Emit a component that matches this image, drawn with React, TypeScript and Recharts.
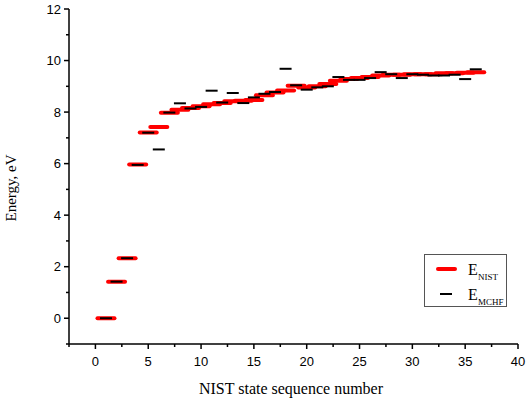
import React from 'react';
import { ScatterChart, Scatter, XAxis, YAxis, Legend } from 'recharts';

// NIST state sequence numbers
const stateNumbers = [
  1, 2, 3, 4, 5, 6, 7, 8, 9, 10, 11, 12, 13, 14, 15, 16, 17, 18,
  19, 20, 21, 22, 23, 24, 25, 26, 27, 28, 29, 30, 31, 32, 33, 34, 35, 36,
];

// energies, eV
const eNist = [
  0, 1.42, 2.33, 5.97, 7.21, 7.42, 7.97, 8.09, 8.16, 8.23, 8.3, 8.35,
  8.42, 8.44, 8.47, 8.65, 8.76, 8.84, 9.02, 8.95, 9.0, 9.09, 9.22, 9.28,
  9.32, 9.36, 9.42, 9.45, 9.45, 9.47, 9.47, 9.47, 9.51, 9.51, 9.53, 9.55,
];

const eMchf = [
  0, 1.42, 2.33, 5.95, 7.2, 6.55, 7.98, 8.34, 8.14, 8.2, 8.83, 8.37,
  8.74, 8.35, 8.57, 8.71, 8.78, 9.68, 9.04, 8.87, 8.96, 9.0, 9.36, 9.25,
  9.25, 9.32, 9.55, 9.47, 9.32, 9.47, 9.45, 9.42, 9.42, 9.45, 9.28, 9.66,
];

const xTicks = [-2.5, 0, 2.5, 5, 7.5, 10, 12.5, 15, 17.5, 20, 22.5, 25, 27.5, 30, 32.5, 35, 37.5, 40];
const yTicks = [-1, 0, 1, 2, 3, 4, 5, 6, 7, 8, 9, 10, 11, 12];

const nistData = stateNumbers.map((n, i) => ({ x: n, y: eNist[i] }));
const mchfData = stateNumbers.map((n, i) => ({ x: n, y: eMchf[i] }));

const sans = '"Liberation Sans", Arial, sans-serif';
const serif = '"Liberation Serif", "Times New Roman", serif';

const XTick = (props: any) => {
  const { x, y, payload } = props;
  const major = payload.value % 5 === 0;
  return (
    <g>
      <line x1={x} x2={x} y1={y} y2={y + (major ? 5 : 3)} stroke="#000" strokeWidth={1.5} />
      {major && (
        <text x={x} y={y + 22} textAnchor="middle" fontSize={13} fontFamily={sans} fill="#000">
          {payload.value}
        </text>
      )}
    </g>
  );
};

const YTick = (props: any) => {
  const { x, y, payload } = props;
  const major = payload.value % 2 === 0 && payload.value >= 0;
  return (
    <g>
      <line x1={x} x2={x - (major ? 5 : 3)} y1={y} y2={y} stroke="#000" strokeWidth={1.5} />
      {major && (
        <text x={x - 8} y={y} dy="0.35em" textAnchor="end" fontSize={13} fontFamily={sans} fill="#000">
          {payload.value}
        </text>
      )}
    </g>
  );
};

const NistDash = (props: any) => (
  <line x1={props.cx - 8.5} x2={props.cx + 8.5} y1={props.cy} y2={props.cy}
    stroke="#ff0000" strokeWidth={4} strokeLinecap="round" />
);

const MchfDash = (props: any) => (
  <line x1={props.cx - 6} x2={props.cx + 6} y1={props.cy} y2={props.cy}
    stroke="#000" strokeWidth={2} />
);

const LegendBox = () => (
  <div style={{ width: 83, height: 53, border: '1px solid #555', background: '#fff', boxSizing: 'border-box' }}>
    <svg width={83} height={53} style={{ display: 'block' }}>
      <line x1={13} x2={30} y1={14} y2={14} stroke="#ff0000" strokeWidth={4} strokeLinecap="round" />
      <text x={43} y={20} fontSize={16} fontFamily={serif} fill="#000">E</text>
      <text x={53} y={25} fontSize={9} fontFamily={serif} fill="#000">NIST</text>
      <line x1={15} x2={27} y1={39} y2={39} stroke="#000" strokeWidth={2} />
      <text x={43} y={45} fontSize={16} fontFamily={serif} fill="#000">E</text>
      <text x={53} y={50} fontSize={9} fontFamily={serif} fill="#000">MCHF</text>
    </svg>
  </div>
);

export default function App() {
  return (
    <div style={{ position: 'absolute', left: 0, top: 0, width: 526, height: 399, background: '#fff' }}>
      <ScatterChart width={526} height={399} margin={{ top: 9, right: 8, left: 0, bottom: 0 }}>
        <XAxis
          type="number"
          dataKey="x"
          domain={[-2.5, 40]}
          ticks={xTicks}
          allowDataOverflow
          height={55}
          tickSize={0}
          tickMargin={0}
          tickLine={false}
          axisLine={{ stroke: '#000', strokeWidth: 1.5 }}
          tick={<XTick />}
          interval={0}
          label={{
            content: () => (
              <text x={291} y={394} textAnchor="middle" fontSize={16} fontFamily={serif} fill="#000">
                NIST state sequence number
              </text>
            ),
          }}
        />
        <YAxis
          type="number"
          dataKey="y"
          domain={[-1, 12]}
          ticks={yTicks}
          allowDataOverflow
          width={69}
          tickSize={0}
          tickMargin={0}
          tickLine={false}
          axisLine={{ stroke: '#000', strokeWidth: 1.5 }}
          tick={<YTick />}
          interval={0}
          label={{
            content: () => (
              <text x={16} y={188} transform="rotate(-90 16 188)" textAnchor="middle" fontSize={15} fontFamily={serif} fill="#000">
                Energy, eV
              </text>
            ),
          }}
        />
        <Legend
          layout="vertical"
          align="center"
          verticalAlign="middle"
          content={<LegendBox />}
          wrapperStyle={{ left: 424, top: 254, width: 83, height: 53 }}
        />
        <Scatter name="E NIST" data={nistData} shape={<NistDash />} isAnimationActive={false} />
        <Scatter name="E MCHF" data={mchfData} shape={<MchfDash />} isAnimationActive={false} />
      </ScatterChart>
    </div>
  );
}
